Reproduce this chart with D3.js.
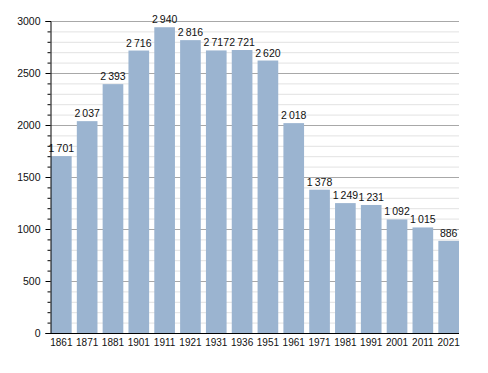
<!DOCTYPE html>
<html>
<head>
<meta charset="utf-8">
<script src="https://cdn.jsdelivr.net/npm/d3@7"></script>
<style>
  body { margin: 0; background: #fff; }
  text { font-family: "Liberation Sans", Arial, sans-serif; }
</style>
</head>
<body>
<div id="chart"></div>
<script>
const years = ["1861", "1871", "1881", "1901", "1911", "1921", "1931", "1936",
               "1951", "1961", "1971", "1981", "1991", "2001", "2011", "2021"];
const population = [1701, 2037, 2393, 2716, 2940, 2816, 2717, 2721,
                    2620, 2018, 1378, 1249, 1231, 1092, 1015, 886];
const yMajorTicks = [0, 500, 1000, 1500, 2000, 2500, 3000];

const width = 488, height = 373;
const margin = {top: 21, right: 29, bottom: 40, left: 50};

const svg = d3.select("#chart").append("svg")
    .attr("width", width).attr("height", height);

const x = d3.scaleBand()
    .domain(years)
    .range([margin.left + 1, width - margin.right])
    .paddingInner(0.2)
    .paddingOuter(0);

const y = d3.scaleLinear()
    .domain([0, 3000])
    .range([height - margin.bottom, margin.top]);

const fmt = d3.formatLocale({decimal: ".", thousands: "\u2009", grouping: [3], currency: ["", ""]}).format(",d");

// grid, major every 500 and minor every 100
svg.append("g").selectAll("line").data(d3.range(0, 3001, 100))
    .join("line")
    .attr("x1", margin.left).attr("x2", width - margin.right)
    .attr("y1", d => y(d) + 0.5).attr("y2", d => y(d) + 0.5)
    .attr("stroke", d => d % 500 === 0 ? "#a8a8a8" : "#e2e2e2")
    .attr("stroke-width", 1);

// bars
svg.append("g").selectAll("rect").data(population)
    .join("rect")
    .attr("x", (d, i) => x(years[i]))
    .attr("width", x.bandwidth())
    .attr("y", d => y(d))
    .attr("height", d => y(0) - y(d))
    .attr("fill", "#9bb4d0");

// value labels
svg.append("g").selectAll("text").data(population)
    .join("text")
    .attr("x", (d, i) => x(years[i]) + x.bandwidth() / 2)
    .attr("y", d => y(d) - 4)
    .attr("text-anchor", "middle")
    .attr("font-size", 10.5)
    .attr("fill", "#111")
    .text(d => fmt(d));

// y axis
const yAxis = d3.axisLeft(y).tickValues(yMajorTicks).tickSize(5).tickPadding(5).tickFormat(d3.format("d"));
const gy = svg.append("g")
    .attr("transform", `translate(${margin.left + 0.5},0)`)
    .call(yAxis);
gy.select(".domain").attr("stroke", "#000");
gy.selectAll(".tick text").attr("font-size", 10.5).attr("fill", "#111")
    .attr("font-family", "Liberation Sans, Arial, sans-serif");

// minor ticks
const gyMinor = svg.append("g")
    .attr("transform", `translate(${margin.left + 0.5},0)`)
    .call(d3.axisLeft(y).tickValues(d3.range(0, 3001, 100).filter(v => v % 500 !== 0)).tickSize(3).tickFormat(""));
gyMinor.select(".domain").remove();

// x axis
const gx = svg.append("g")
    .attr("transform", `translate(0,${y(0) + 0.5})`)
    .call(d3.axisBottom(x).tickSize(0).tickPadding(5));
gx.select(".domain").attr("stroke", "#000").attr("d", `M${margin.left},0H${width - margin.right}`);
gx.selectAll(".tick text").attr("font-size", 10).attr("fill", "#111")
    .attr("font-family", "Liberation Sans, Arial, sans-serif");
</script>
</body>
</html>
